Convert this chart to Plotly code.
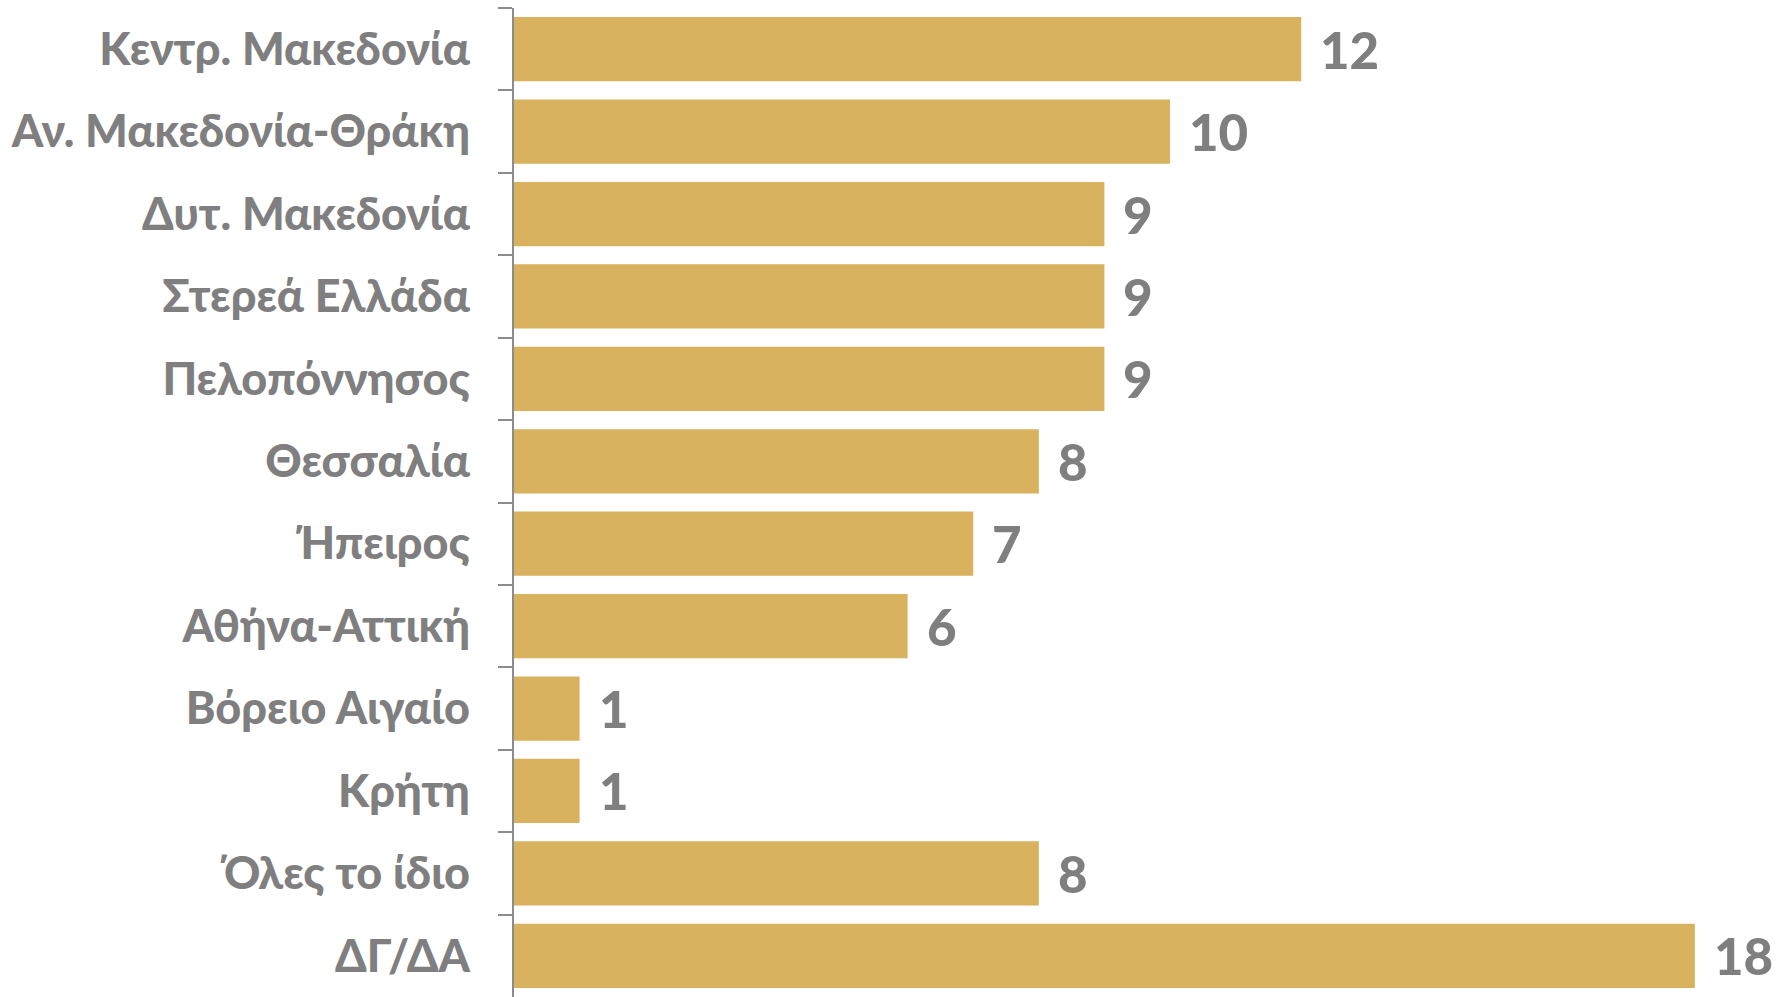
import plotly.graph_objects as go

categories = ["Κεντρ. Μακεδονία", "Αν. Μακεδονία-Θράκη", "Δυτ. Μακεδονία", "Στερεά Ελλάδα",
              "Πελοπόννησος", "Θεσσαλία", "Ήπειρος", "Αθήνα-Αττική", "Βόρειο Αιγαίο",
              "Κρήτη", "Όλες το ίδιο", "ΔΓ/ΔΑ"]
values = [12, 10, 9, 9, 9, 8, 7, 6, 1, 1, 8, 18]

BAR = "#D8B25E"
GRAY = "#7F7F7F"
FONT = "Lato"

fig = go.Figure()
fig.add_trace(go.Bar(
    x=values, y=categories, orientation="h",
    marker=dict(color=BAR, line=dict(width=0)),
    hoverinfo="skip",
))

for c, v in zip(categories, values):
    fig.add_annotation(x=v, y=c, text=str(v), showarrow=False,
                       xanchor="left", yanchor="middle", xshift=17, yshift=0,
                       font=dict(family=FONT, size=51, color=GRAY, weight=900))

fig.update_layout(
    width=1788, height=997,
    margin=dict(l=514, r=0, t=8, b=0),
    paper_bgcolor="white", plot_bgcolor="white",
    bargap=0.22,
    showlegend=False,
    xaxis=dict(range=[0, 19.42], visible=False, fixedrange=True),
    yaxis=dict(
        type="category", autorange="reversed",
        showline=True, linecolor="#8C8C8C", linewidth=2,
        ticks="outside", ticklen=14, tickwidth=2, tickcolor="#8C8C8C",
        tickson="boundaries", ticklabelstandoff=33,
        tickfont=dict(family=FONT, size=45, color=GRAY, weight=900),
        showgrid=False, zeroline=False, fixedrange=True,
    ),
)

fig.write_html("out.html", config={"displayModeBar": False},
               post_script="document.body.style.margin='0';document.body.style.overflow='hidden';")
